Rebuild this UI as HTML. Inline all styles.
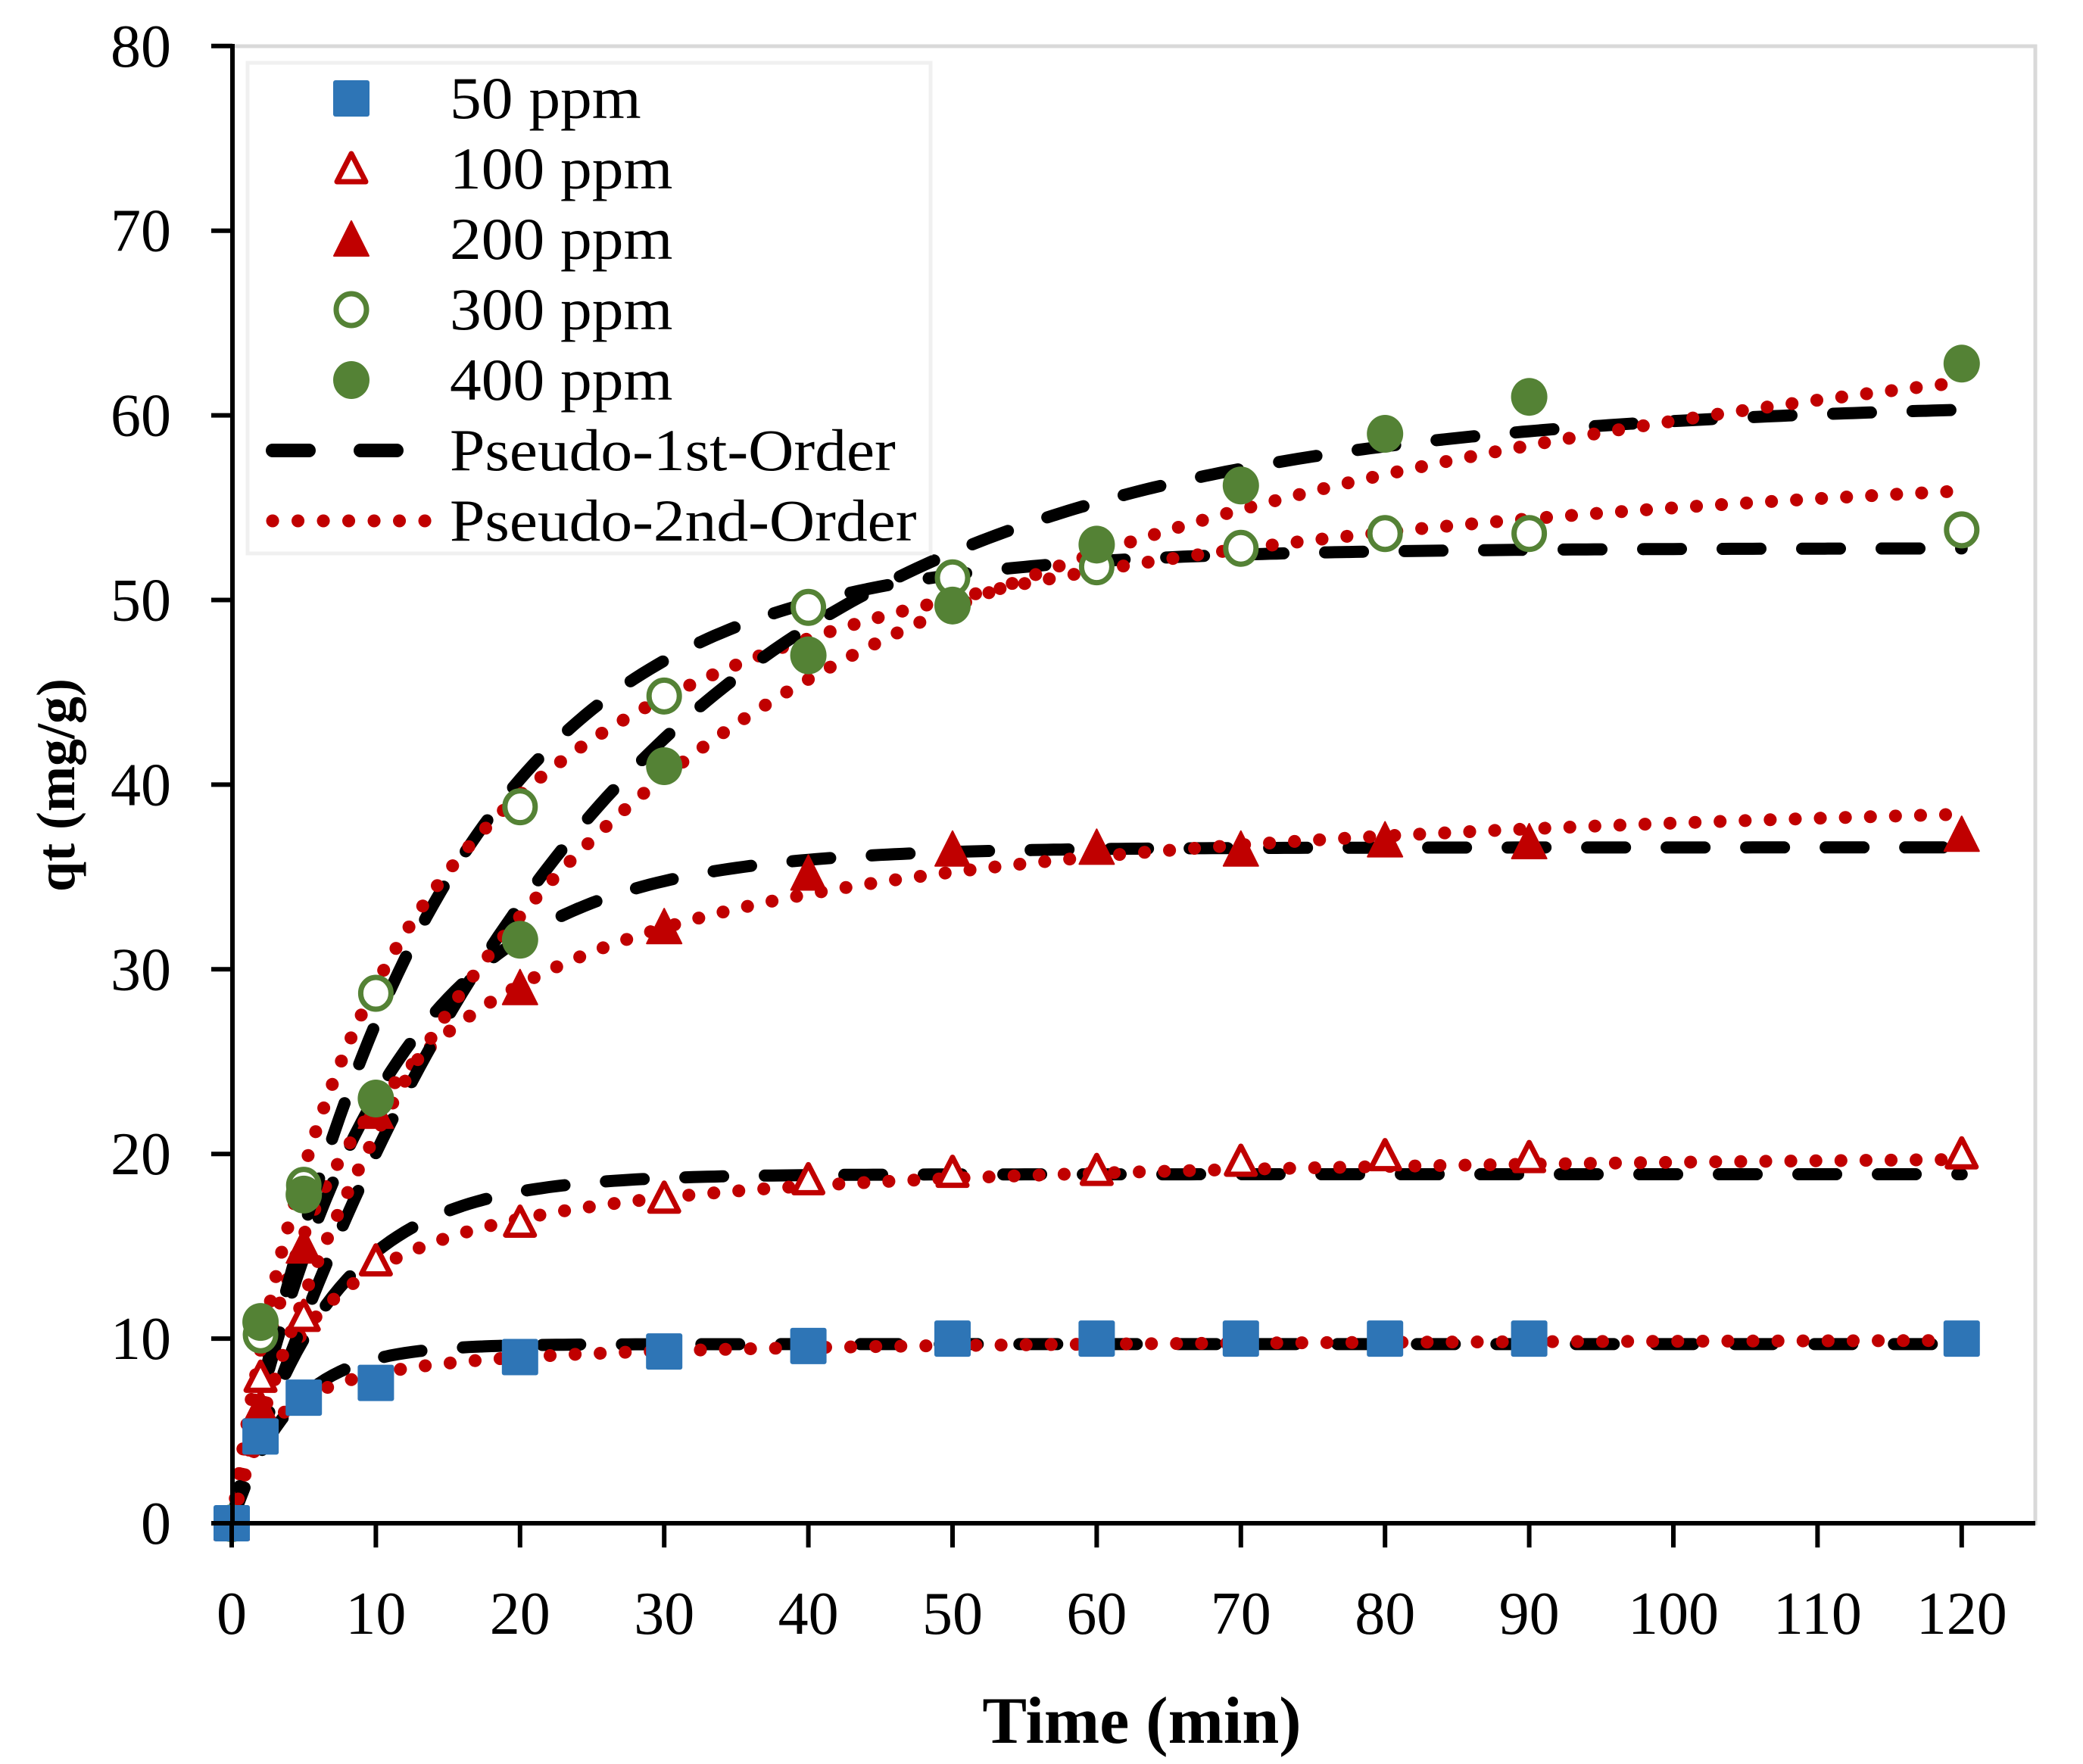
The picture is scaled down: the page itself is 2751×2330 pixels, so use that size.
<!DOCTYPE html>
<html><head><meta charset="utf-8"><style>
html,body{margin:0;padding:0;background:#fff;}
svg{display:block;font-family:"Liberation Serif",serif;}
</style></head><body>
<svg id="chart" width="2751" height="2330" viewBox="0 0 2751 2330" xmlns="http://www.w3.org/2000/svg">
<rect x="307" y="61" width="2381" height="1951" fill="#fff" stroke="#d9d9d9" stroke-width="5"/>
<g id="lines"></g>
<g id="marks"></g>
<g id="axes"></g>
<g id="legend"></g>
<text x="1508" y="2302" font-size="88" font-weight="bold" text-anchor="middle">Time (min)</text>
<text x="0" y="0" font-size="72" font-weight="bold" text-anchor="middle" transform="translate(98,1037) rotate(-90)">qt (mg/g)</text>
</svg>
<script>
const times = [0,2,5,10,20,30,40,50,60,70,80,90,120];
const q50  = [0,4.7,6.8,7.6,9.0,9.3,9.6,10,10,10,10,10,10];
const q100 = [0,7.9,11.2,14.2,16.3,17.6,18.6,19.0,19.1,19.6,19.9,19.8,20.0];
const q200 = [0,6.3,15.0,22.3,29.0,32.3,35.2,36.5,36.6,36.5,37.0,36.9,37.3];
const q300 = [0,10.2,18.3,28.7,38.8,44.8,49.6,51.2,51.8,52.8,53.6,53.6,53.8];
const q400 = [0,10.9,17.8,23.0,31.6,41.0,47.0,49.7,53.0,56.2,59.0,61.0,62.8];
const pfoQe = [9.7,18.9,36.6,52.8,60.8];
const pfoK  = [0.25,0.15,0.10,0.072,0.04];
const psoQe = [10.1,20.5,41,61,75];
const psoK  = [0.04,0.01,0.003,0.0015,0.00052];
const xTicks = [0,10,20,30,40,50,60,70,80,90,100,110,120];
const yTicks = [0,10,20,30,40,50,60,70,80];

const NS="http://www.w3.org/2000/svg";
const X0=306, XS=19.04, Y0=2012, YS=24.39;
function sx(t){return X0+t*XS;}
function sy(v){return Y0-v*YS;}
function mk(tag,attrs,parent){const e=document.createElementNS(NS,tag);for(const k in attrs)e.setAttribute(k,attrs[k]);parent.appendChild(e);return e;}

const lines=document.getElementById('lines');
for(let i=0;i<5;i++){
  let d1='',d2='';
  for(let t=0;t<=120;t+=0.5){
    const p1=pfoQe[i]*(1-Math.exp(-pfoK[i]*t));
    const p2=psoQe[i]*psoQe[i]*psoK[i]*t/(1+psoQe[i]*psoK[i]*t);
    d1+=(t===0?'M':'L')+sx(t).toFixed(1)+','+sy(p1).toFixed(1);
    d2+=(t===0?'M':'L')+sx(t).toFixed(1)+','+sy(p2).toFixed(1);
  }
  const a=mk('path',{d:d1,fill:'none',stroke:'#000','stroke-width':16,'stroke-dasharray':'50 55','stroke-linecap':'round'},lines);
  
  
  const b=mk('path',{d:d2,fill:'none',stroke:'#c00000','stroke-width':17,'stroke-dasharray':'0.1 33','stroke-linecap':'round'},lines);
  
  
}

function marker(type,x,y,parent){
  let e;
  if(type==='sq') e=mk('rect',{x:x-24,y:y-24,width:48,height:48,rx:3,fill:'#2e75b6'},parent);
  else if(type==='tri-o') e=mk('polygon',{points:`${x},${y-20} ${x+19},${y+17} ${x-19},${y+17}`,fill:'#fff',stroke:'#c00000','stroke-width':7,'stroke-linejoin':'round'},parent);
  else if(type==='tri') e=mk('polygon',{points:`${x},${y-24} ${x+23},${y+22} ${x-23},${y+22}`,fill:'#c00000',stroke:'#c00000','stroke-width':2,'stroke-linejoin':'round'},parent);
  else if(type==='circ-o') e=mk('ellipse',{cx:x,cy:y,rx:20,ry:21,fill:'#fff',stroke:'#548235','stroke-width':7},parent);
  else e=mk('ellipse',{cx:x,cy:y,rx:24,ry:25,fill:'#548235'},parent);
  return e;
}
const marks=document.getElementById('marks');
const series=[[q100,'tri-o','marker-100ppm'],[q200,'tri','marker-200ppm'],[q300,'circ-o','marker-300ppm'],[q400,'circ','marker-400ppm'],[q50,'sq','marker-50ppm']];
series.forEach(s=>{
  s[0].forEach((v,i)=>{
    const e=marker(s[1],sx(times[i]),sy(v),marks);
    
    
  });
});

const axes=document.getElementById('axes');
mk('line',{x1:307,y1:Y0,x2:2688,y2:Y0,stroke:'#000','stroke-width':6},axes);
mk('line',{x1:307,y1:58,x2:307,y2:Y0+3,stroke:'#000','stroke-width':6},axes);
xTicks.forEach(t=>{
  const l=mk('line',{x1:sx(t),y1:Y0,x2:sx(t),y2:Y0+32,stroke:'#000','stroke-width':6},axes);
  
  
  const tx=mk('text',{x:sx(t),y:2158,'font-size':80,'text-anchor':'middle'},axes);
  tx.textContent=t;
  
  
});
yTicks.forEach(v=>{
  const l=mk('line',{x1:279,y1:sy(v),x2:307,y2:sy(v),stroke:'#000','stroke-width':6},axes);
  
  
  const tx=mk('text',{x:226,y:sy(v)+27,'font-size':80,'text-anchor':'end'},axes);
  tx.textContent=v;
  
  
});

const lg=document.getElementById('legend');
mk('rect',{x:327,y:83,width:902,height:648,fill:'#fff',stroke:'#f0f0f0','stroke-width':5},lg);
const labels=['50 ppm','100 ppm','200 ppm','300 ppm','400 ppm','Pseudo-1st-Order','Pseudo-2nd-Order'];
const types=['sq','tri-o','tri','circ-o','circ'];
labels.forEach((lab,i)=>{
  const cy=130+i*93;
  if(i<5){const m=marker(types[i],464,cy,lg);}
  else if(i===5){const p=mk('line',{x1:360,y1:cy,x2:535,y2:cy,stroke:'#000','stroke-width':18,'stroke-dasharray':'48 68','stroke-linecap':'round'},lg);}
  else {const p=mk('line',{x1:360,y1:cy,x2:567,y2:cy,stroke:'#c00000','stroke-width':17,'stroke-dasharray':'0.1 33.4','stroke-linecap':'round'},lg);}
  const t=mk('text',{x:594,y:cy+26,'font-size':78},lg);
  t.textContent=lab;
  
  
  const w=t.getComputedTextLength();
  t.setAttribute('textLength',(w*1.07).toFixed(1));
  t.setAttribute('lengthAdjust','spacingAndGlyphs');
});
</script>
</body></html>
